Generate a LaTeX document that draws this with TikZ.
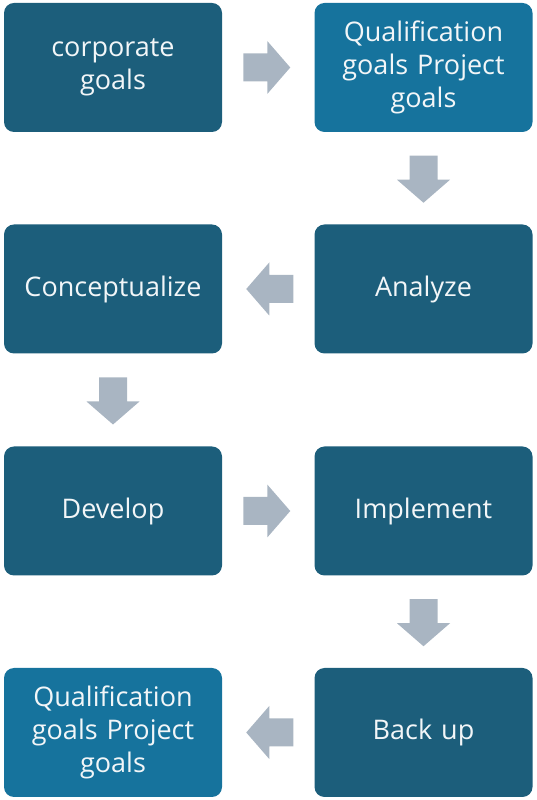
\documentclass[tikz,border=0pt]{standalone}
\usepackage{fontspec}
\setmainfont{Open Sans}
\usetikzlibrary{calc}
\definecolor{darkbox}{HTML}{1C5E7B}
\definecolor{lightbox}{HTML}{16739D}
\definecolor{arrowgray}{HTML}{A9B5C2}
\definecolor{boxtext}{HTML}{F2F6F8}
\tikzset{
  box/.style={rounded corners=10pt, minimum width=218pt, minimum height=129pt,
    text width=210pt, align=center, text=boxtext, inner sep=0pt,
    font=\fontsize{27}{33}\selectfont},
  dbox/.style={box, fill=darkbox},
  lbox/.style={box, fill=lightbox},
  flowarrow/.pic={\fill[arrowgray] (-23.5,-14) -- (0.5,-14) -- (0.5,-26.5) -- (23.5,0) -- (0.5,26.5) -- (0.5,14) -- (-23.5,14) -- cycle;}
}
\begin{document}
\begin{tikzpicture}[x=1pt,y=1pt]
\useasboundingbox (0,0) rectangle (536,800);
\node[dbox] (a) at (113,732.5) {corporate\\goals};
\node[lbox] (b) at (423.5,732.5) {Qualification\\goals Project\\goals};
\node[dbox] (c) at (423.5,511) {Analyze};
\node[dbox] (d) at (113,511) {Conceptualize};
\node[dbox] (e) at (113,289) {Develop};
\node[dbox] (f) at (423.5,289) {Implement};
\node[dbox] (g) at (423.5,67.5) {Back up};
\node[lbox] (h) at (113,67.5) {Qualification\\goals Project\\goals};
\pic at ($(a.east)!0.5!(b.west)+(-1.5,0)$) {flowarrow};
\pic[rotate=-90] at ($(b.south)!0.5!(c.north)+(0,-1)$) {flowarrow};
\pic[rotate=180] at ($(c.west)!0.5!(d.east)+(1.5,0)$) {flowarrow};
\pic[rotate=-90] at ($(d.south)!0.5!(e.north)+(0,-1)$) {flowarrow};
\pic at ($(e.east)!0.5!(f.west)+(-1.5,0)$) {flowarrow};
\pic[rotate=-90] at ($(f.south)!0.5!(g.north)+(0,-1)$) {flowarrow};
\pic[rotate=180] at ($(g.west)!0.5!(h.east)+(1.5,0)$) {flowarrow};
\end{tikzpicture}
\end{document}
